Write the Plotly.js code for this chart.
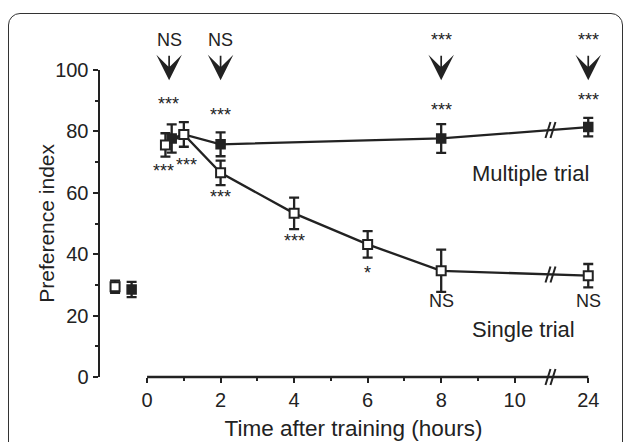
<!DOCTYPE html>
<html>
<head>
<meta charset="utf-8">
<script src="https://cdn.plot.ly/plotly-3.0.1.min.js"></script>
<style>
  html, body { margin: 0; padding: 0; background: #fff; }
  #wrap { position: relative; width: 627px; height: 442px; overflow: hidden; }
  #chart { position: absolute; left: 0; top: 0; width: 627px; height: 442px; }
  #frame { position: absolute; left: 8px; top: 13px; width: 615px; height: 470px;
           border: 1.6px solid #333; border-radius: 12px; pointer-events: none; box-sizing: border-box; }
</style>
</head>
<body>
<div id="wrap"><div id="chart"></div><div id="frame"></div></div>
<script>
// ---- data ----
const singleHours   = [0.5, 1, 2, 4, 6, 8, 24];
const singleValues  = [75.6, 79.0, 66.5, 53.3, 43.2, 34.6, 33.0];
const singleErrors  = [3.8, 4.0, 4.0, 5.1, 4.3, 6.9, 3.8];

const multipleHours  = [0.67, 1, 2, 8, 24];
const multipleValues = [77.7, 79.0, 75.8, 77.7, 81.4];
const multipleErrors = [4.6, 0, 3.9, 4.7, 3.0];

const baselineHours  = [-0.87, -0.42];      // naive groups, drawn left of time 0
const baselineValues = [29.4, 28.5];
const baselineErrors = [2.0, 2.5];

const tickHours = [0, 2, 4, 6, 8, 10, 24];
const minorTickHours = [1, 3, 5, 7, 9];
const yTicks = [0, 20, 40, 60, 80, 100];
const yMinorTicks = [10, 30, 50, 70, 90];

// significance labels: [hours, value, text]
const sigLabels = [
  [0.57, 88.9, '***'], [2, 85.3, '***'], [8, 87.0, '***'], [24, 90.2, '***'],
  [0.46, 67.1, '***'], [1.08, 69.1, '***'], [2, 58.7, '***'], [4, 44.4, '***'],
  [6, 34.0, '*'], [8, 24.8, 'NS'], [24, 24.8, 'NS']
];
// top comparison labels with arrows: [hours, text]
const topLabels = [[0.6, 'NS'], [2, 'NS'], [8, '***'], [24, '***']];

// ---- broken time axis: 10 h ... // ... 24 h ----
const BREAK_AT = 11;
function pos(h) { return h > BREAK_AT ? h - 12 : h; }

const ink = '#222';
const fontFam = 'Liberation Sans, Arial, Helvetica, sans-serif';

const traces = [
  {
    x: multipleHours.map(pos), y: multipleValues, type: 'scatter', mode: 'lines+markers',
    line: { color: ink, width: 2.3 },
    marker: { symbol: 'square', size: 9, color: ink, line: { color: ink, width: 1.5 } },
    error_y: { type: 'data', array: multipleErrors, color: ink, thickness: 2.3, width: 5 },
    cliponaxis: false, hoverinfo: 'none'
  },
  {
    x: singleHours.map(pos), y: singleValues, type: 'scatter', mode: 'lines+markers',
    line: { color: ink, width: 2.3 },
    marker: { symbol: 'square', size: 9, color: '#fff', line: { color: ink, width: 2 } },
    error_y: { type: 'data', array: singleErrors, color: ink, thickness: 2.3, width: 5 },
    cliponaxis: false, hoverinfo: 'none'
  },
  {
    x: [baselineHours[0]], y: [baselineValues[0]], type: 'scatter', mode: 'markers',
    marker: { symbol: 'square', size: 9, color: '#fff', line: { color: ink, width: 2 } },
    error_y: { type: 'data', array: [baselineErrors[0]], color: ink, thickness: 2.3, width: 5 },
    cliponaxis: false, hoverinfo: 'none'
  },
  {
    x: [baselineHours[1]], y: [baselineValues[1]], type: 'scatter', mode: 'markers',
    marker: { symbol: 'square', size: 9, color: ink, line: { color: ink, width: 1.5 } },
    error_y: { type: 'data', array: [baselineErrors[1]], color: ink, thickness: 2.3, width: 5 },
    cliponaxis: false, hoverinfo: 'none'
  }
];

// break marks ("//") on the axis and on both lines
function lineAtBreak(hours, values) {
  const n = hours.length;
  const x0 = pos(hours[n - 2]), x1 = pos(hours[n - 1]);
  return values[n - 2] + (values[n - 1] - values[n - 2]) * (BREAK_AT - x0) / (x1 - x0);
}
function breakMark(yAnchor, yref) {
  const common = { type: 'line', xref: 'x', yref: yref, xsizemode: 'pixel', ysizemode: 'pixel',
                   xanchor: BREAK_AT, yanchor: yAnchor, line: { color: ink, width: 2 } };
  return [
    Object.assign({}, common, { x0: -6, y0: -8, x1: -1, y1: 8 }),
    Object.assign({}, common, { x0: -1, y0: -8, x1: 4, y1: 8 })
  ];
}
const shapes = [
  { type: 'line', xref: 'x', yref: 'paper', x0: pos(tickHours[0]), x1: pos(tickHours[tickHours.length - 1]),
    y0: 0, y1: 0, line: { color: ink, width: 2.5 } }
].concat(breakMark(0, 'paper'), breakMark(lineAtBreak(singleHours, singleValues), 'y'),
         breakMark(lineAtBreak(multipleHours, multipleValues), 'y'));

const annotations = [];
sigLabels.forEach(([h, v, t]) => annotations.push({
  x: pos(h), y: v, xref: 'x', yref: 'y', text: t, showarrow: false,
  font: { family: fontFam, size: 18, color: ink }, xanchor: 'center', yanchor: 'middle'
}));
topLabels.forEach(([h, t]) => {
  annotations.push({ x: pos(h), y: 1.098, xref: 'x', yref: 'paper', text: t, showarrow: false,
    font: { family: fontFam, size: 18, color: ink }, xanchor: 'center', yanchor: 'middle' });
  annotations.push({ x: pos(h), y: 0.967, xref: 'x', yref: 'paper', text: '', showarrow: true,
    ax: 0, ay: -26, arrowhead: 3, arrowsize: 2.5, arrowwidth: 1.7, arrowcolor: ink, standoff: 0 });
});
annotations.push({ x: 10.42, y: 66.4, xref: 'x', yref: 'y', text: 'Multiple trial', showarrow: false,
  font: { family: fontFam, size: 22, color: ink }, xanchor: 'center', yanchor: 'middle' });
annotations.push({ x: 10.23, y: 15.6, xref: 'x', yref: 'y', text: 'Single trial', showarrow: false,
  font: { family: fontFam, size: 22, color: ink }, xanchor: 'center', yanchor: 'middle' });
// y-axis title placed as rotated text
annotations.push({ x: -0.106, y: 0.5, xref: 'paper', yref: 'paper', text: 'Preference index',
  textangle: -90, showarrow: false, font: { family: fontFam, size: 21, color: ink },
  xanchor: 'center', yanchor: 'middle' });

const layout = {
  width: 627, height: 442,
  margin: { l: 100, r: 20, t: 70, b: 65 },
  paper_bgcolor: '#fff', plot_bgcolor: '#fff',
  showlegend: false,
  font: { family: fontFam, color: ink },
  xaxis: {
    range: [-1.28, 12.51], showgrid: false, zeroline: false, showline: false,
    tickmode: 'array', tickvals: tickHours.map(pos), ticktext: tickHours.map(String),
    ticks: 'outside', ticklen: 5, tickwidth: 2, tickcolor: ink,
    minor: { tickmode: 'array', tickvals: minorTickHours.map(pos), ticks: 'outside', ticklen: 3, tickwidth: 2, tickcolor: ink },
    tickfont: { family: fontFam, size: 20, color: ink },
    title: { text: 'Time after training (hours)', font: { family: fontFam, size: 22.5, color: ink }, standoff: 10 }
  },
  yaxis: {
    range: [0, 100], showgrid: false, zeroline: false, showline: true, linecolor: ink, linewidth: 2.5,
    tickmode: 'array', tickvals: yTicks, ticktext: yTicks.map(String),
    ticks: 'outside', ticklen: 5, tickwidth: 2, tickcolor: ink,
    minor: { tickmode: 'array', tickvals: yMinorTicks, ticks: 'outside', ticklen: 3, tickwidth: 2, tickcolor: ink },
    tickfont: { family: fontFam, size: 20, color: ink }
  },
  shapes: shapes,
  annotations: annotations
};

Plotly.newPlot('chart', traces, layout, { displayModeBar: false, staticPlot: true });
</script>
</body>
</html>
